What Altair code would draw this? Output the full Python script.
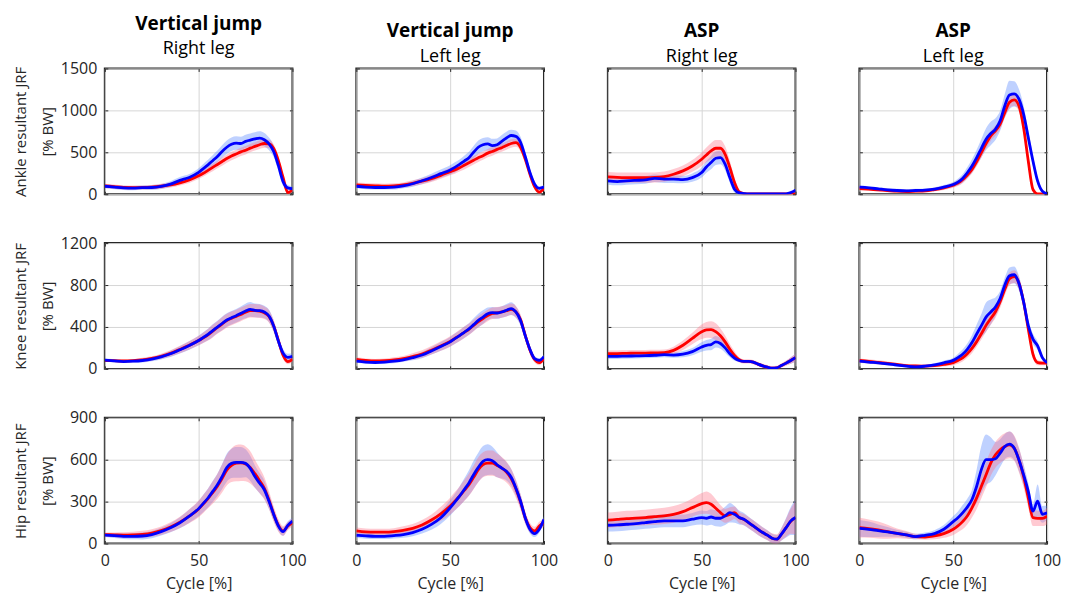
import altair as alt
import pandas as pd

# ---------------- data ----------------
X = [0, 5, 10, 15, 20, 25, 30, 35, 40, 45, 50, 52.5, 55, 57.5, 60, 62.5, 65, 67.5, 70,
     72.5, 75, 77.5, 80, 82.5, 85, 87.5, 90, 92.5, 95, 97.5, 100]

ROW_TITLES = [["Ankle resultant JRF", "[% BW]"],
              ["Knee resultant JRF", "[% BW]"],
              ["Hip resultant JRF", "[% BW]"]]
Y_MAX = [1500, 1200, 900]
Y_TICKS = [[0, 500, 1000, 1500], [0, 400, 800, 1200], [0, 300, 600, 900]]
X_TICKS = [0, 50, 100]
X_TITLE = "Cycle [%]"
COL_TITLES = ["Vertical jump", "Vertical jump", "ASP", "ASP"]
COL_SUBTITLES = ["Right leg", "Left leg", "Right leg", "Left leg"]

# Ankle, vertical jump, right leg
ankle_vjr_red = [100, 90, 80, 78, 80, 85, 95, 110, 135, 170, 220, 250, 285, 320, 355, 390, 425, 455, 480, 505,
                 525, 550, 570, 590, 605, 600, 545, 400, 200, 20, 50]
ankle_vjr_red_sd = [25, 25, 25, 25, 25, 25, 30, 30, 30, 35, 40, 40, 40, 45, 45, 50, 50, 50, 50, 50,
                    50, 50, 50, 50, 50, 50, 50, 45, 40, 20, 20]
ankle_vjr_blue = [95, 85, 75, 72, 78, 80, 92, 120, 165, 200, 260, 305, 350, 400, 450, 510, 560, 595, 610, 605,
                  630, 645, 660, 670, 650, 600, 510, 340, 150, 75, 65]
ankle_vjr_blue_sd = [25, 25, 25, 25, 25, 30, 30, 35, 40, 40, 50, 55, 60, 65, 70, 75, 80, 80, 80, 80,
                     80, 80, 80, 80, 80, 75, 70, 60, 50, 35, 30]

# Ankle, vertical jump, left leg
ankle_vjl_red = [110, 105, 100, 95, 100, 110, 130, 155, 185, 225, 270, 290, 315, 345, 375, 405, 435, 460, 490, 510,
                 535, 555, 580, 605, 615, 560, 420, 240, 90, 25, 70]
ankle_vjl_red_sd = [30, 30, 30, 30, 30, 30, 35, 35, 40, 40, 45, 45, 45, 50, 50, 50, 50, 50, 50, 50,
                    50, 50, 50, 50, 50, 50, 50, 45, 35, 20, 20]
ankle_vjl_blue = [95, 85, 80, 80, 85, 100, 125, 160, 200, 245, 290, 320, 355, 395, 435, 500, 560, 590, 600, 580,
                  590, 630, 670, 700, 690, 620, 450, 260, 120, 70, 85]
ankle_vjl_blue_sd = [25, 25, 25, 25, 30, 30, 35, 40, 45, 50, 55, 60, 60, 65, 70, 75, 80, 80, 80, 80,
                     75, 75, 75, 70, 70, 65, 60, 50, 35, 25, 25]

# Ankle, ASP, right leg
ankle_aspr_red = [206, 200, 198, 198, 198, 200, 210, 238, 278, 337, 417, 468, 516, 548, 548, 476, 318, 139, 28, 8,
                  3, 3, 3, 3, 3, 3, 3, 3, 3, 3, 3]
ankle_aspr_red_sd = [60, 60, 60, 60, 60, 60, 60, 62, 65, 70, 80, 88, 95, 100, 100, 95, 80, 60, 30, 10,
                     5, 5, 5, 5, 5, 5, 5, 5, 5, 5, 5]
ankle_aspr_blue = [159, 151, 159, 165, 171, 190, 179, 180, 175, 198, 258, 325, 377, 429, 437, 357, 198, 60, 16, 8,
                   3, 3, 3, 3, 3, 3, 3, 3, 5, 20, 48]
ankle_aspr_blue_sd = [45, 45, 45, 45, 45, 45, 45, 45, 45, 50, 60, 70, 80, 80, 80, 70, 60, 40, 15, 8,
                      5, 5, 5, 5, 5, 5, 5, 5, 5, 8, 10]

# Ankle, ASP, left leg
ankle_aspl_red = [68, 60, 52, 44, 36, 32, 36, 40, 56, 76, 108, 132, 172, 228, 296, 388, 496, 604, 696, 756,
                  836, 976, 1096, 1124, 1056, 796, 396, 56, 4, 4, 4]
ankle_aspl_red_sd = [20, 20, 20, 20, 20, 20, 20, 20, 20, 25, 30, 35, 40, 45, 50, 55, 60, 60, 60, 60,
                     60, 65, 70, 70, 70, 65, 60, 30, 5, 5, 5]
ankle_aspl_blue = [84, 76, 64, 52, 44, 40, 44, 48, 60, 84, 116, 144, 188, 256, 336, 436, 548, 656, 724, 776,
                   876, 1056, 1184, 1196, 1136, 956, 676, 396, 156, 36, 4]
ankle_aspl_blue_sd = [20, 20, 20, 20, 20, 20, 20, 20, 20, 25, 30, 40, 50, 65, 80, 95, 110, 130, 140, 130,
                      120, 140, 170, 150, 120, 100, 80, 60, 40, 20, 10]

# Knee, vertical jump, right leg
knee_vjr_red = [80, 78, 75, 78, 85, 100, 120, 148, 185, 225, 270, 297, 325, 360, 395, 428, 460, 482, 500, 520,
                540, 555, 555, 550, 535, 500, 410, 270, 130, 70, 90]
knee_vjr_red_sd = [15, 15, 15, 15, 20, 20, 25, 30, 35, 40, 45, 50, 55, 60, 60, 65, 65, 65, 65, 65,
                   65, 65, 65, 65, 60, 60, 55, 45, 35, 25, 25]
knee_vjr_blue = [83, 77, 70, 73, 80, 93, 115, 144, 182, 223, 271, 300, 329, 365, 399, 433, 466, 488, 507, 530,
                 552, 568, 558, 555, 542, 504, 408, 265, 150, 110, 120]
knee_vjr_blue_sd = [15, 15, 15, 15, 20, 20, 25, 30, 35, 40, 45, 50, 55, 60, 60, 65, 65, 65, 65, 65,
                    70, 70, 65, 65, 60, 60, 55, 45, 40, 35, 30]

# Knee, vertical jump, left leg
knee_vjl_red = [90, 80, 75, 78, 85, 98, 118, 142, 178, 218, 262, 290, 318, 348, 378, 414, 450, 480, 510, 530,
                535, 543, 555, 568, 545, 470, 320, 180, 90, 60, 100]
knee_vjl_red_sd = [20, 20, 20, 20, 25, 25, 30, 35, 40, 45, 50, 50, 55, 55, 55, 55, 55, 55, 55, 55,
                   55, 55, 55, 55, 55, 50, 45, 40, 30, 25, 25]
knee_vjl_blue = [74, 65, 61, 65, 74, 87, 107, 132, 171, 213, 258, 288, 317, 349, 381, 422, 462, 494, 526, 536,
                 533, 543, 559, 575, 543, 462, 317, 187, 97, 81, 116]
knee_vjl_blue_sd = [15, 15, 15, 15, 20, 20, 25, 30, 35, 40, 45, 50, 50, 55, 55, 60, 65, 65, 60, 55,
                    55, 55, 60, 60, 55, 50, 45, 35, 25, 20, 20]

# Knee, ASP, right leg
knee_aspr_red = [145, 146, 148, 150, 151, 153, 155, 177, 225, 290, 354, 372, 375, 355, 316, 258, 187, 129, 87, 72,
                 71, 64, 45, 29, 16, 6, 10, 32, 55, 80, 106]
knee_aspr_red_sd = [30, 30, 30, 30, 30, 30, 30, 35, 45, 55, 70, 75, 80, 80, 70, 60, 50, 40, 25, 20,
                    20, 20, 20, 20, 20, 20, 20, 20, 25, 30, 40]
knee_aspr_blue = [119, 120, 122, 124, 126, 130, 135, 132, 140, 165, 209, 225, 232, 258, 242, 200, 145, 103, 80, 71,
                  71, 64, 45, 29, 16, 6, 10, 32, 55, 80, 106]
knee_aspr_blue_sd = [25, 25, 25, 25, 25, 25, 25, 25, 30, 35, 45, 50, 55, 55, 50, 45, 35, 25, 15, 12,
                     12, 12, 12, 12, 12, 12, 12, 15, 20, 30, 40]

# Knee, ASP, left leg
knee_aspl_red = [80, 72, 62, 52, 42, 32, 28, 26, 30, 42, 60, 80, 105, 145, 195, 260, 335, 415, 480, 545,
                 640, 760, 860, 880, 820, 640, 380, 140, 60, 55, 55]
knee_aspl_red_sd = [20, 20, 20, 18, 15, 15, 15, 15, 15, 20, 25, 30, 35, 40, 45, 50, 55, 60, 60, 60,
                    60, 60, 60, 60, 60, 55, 50, 40, 25, 20, 20]
knee_aspl_blue = [74, 65, 58, 48, 36, 26, 19, 26, 39, 58, 81, 107, 139, 187, 252, 333, 413, 494, 543, 591,
                  672, 801, 888, 898, 817, 640, 413, 284, 220, 107, 58]
knee_aspl_blue_sd = [15, 15, 15, 15, 12, 12, 12, 12, 15, 20, 25, 35, 45, 55, 70, 90, 110, 140, 120, 90,
                     70, 70, 80, 80, 70, 65, 60, 50, 40, 25, 15]

# Hip, vertical jump, right leg
hip_vjr_red = [64, 62, 60, 62, 66, 75, 92, 118, 152, 196, 248, 284, 322, 365, 410, 465, 525, 560, 575, 578,
               570, 545, 500, 450, 395, 310, 210, 130, 90, 125, 150]
hip_vjr_red_sd = [15, 17, 20, 22, 25, 27, 30, 35, 40, 50, 60, 65, 70, 80, 90, 100, 110, 120, 130, 130,
                  125, 115, 100, 90, 80, 65, 55, 45, 35, 30, 30]
hip_vjr_blue = [61, 57, 52, 52, 54, 64, 85, 113, 149, 196, 250, 288, 326, 373, 420, 479, 543, 574, 581, 581,
                574, 538, 479, 432, 385, 302, 208, 125, 85, 130, 160]
hip_vjr_blue_sd = [15, 17, 20, 22, 25, 26, 28, 32, 40, 48, 55, 62, 68, 75, 80, 90, 100, 105, 110, 110,
                   100, 90, 80, 72, 65, 55, 45, 35, 30, 30, 25]

# Hip, vertical jump, left leg
hip_vjl_red = [90, 83, 81, 81, 85, 95, 109, 133, 168, 213, 268, 303, 339, 380, 422, 474, 528, 564, 576, 576,
               559, 540, 512, 465, 393, 299, 185, 114, 90, 126, 149]
hip_vjl_red_sd = [25, 25, 25, 25, 25, 28, 30, 35, 40, 50, 60, 65, 70, 75, 80, 85, 90, 90, 90, 90,
                  85, 80, 75, 70, 65, 55, 45, 35, 30, 30, 30]
hip_vjl_blue = [59, 55, 52, 52, 57, 64, 78, 102, 137, 185, 256, 297, 339, 386, 434, 493, 545, 588, 600, 593,
                564, 540, 517, 474, 398, 303, 185, 102, 71, 102, 173]
hip_vjl_blue_sd = [20, 20, 20, 20, 20, 22, 25, 30, 38, 45, 55, 60, 70, 80, 90, 100, 105, 110, 110, 100,
                   90, 75, 65, 60, 55, 50, 40, 30, 25, 25, 25]

# Hip, ASP, right leg
hip_aspr_red = [167, 173, 179, 182, 186, 192, 198, 209, 228, 257, 286, 293, 281, 252, 221, 198, 209, 221, 186, 172,
                150, 126, 102, 79, 60, 38, 31, 67, 114, 160, 185]
hip_aspr_red_sd = [55, 55, 55, 55, 55, 57, 58, 60, 62, 65, 75, 80, 75, 65, 55, 50, 50, 45, 40, 40,
                   40, 40, 40, 38, 36, 35, 35, 45, 65, 90, 120]
hip_aspr_blue = [131, 133, 138, 143, 150, 157, 162, 162, 162, 174, 186, 181, 190, 181, 181, 198, 221, 209, 186, 174,
                 150, 126, 102, 79, 60, 38, 31, 67, 114, 162, 186]
hip_aspr_blue_sd = [45, 45, 45, 45, 45, 45, 45, 45, 45, 45, 50, 52, 55, 58, 60, 65, 70, 60, 50, 45,
                    42, 40, 40, 38, 35, 32, 30, 45, 70, 100, 125]

# Hip, ASP, left leg
hip_aspl_red = [114, 107, 97, 85, 73, 62, 50, 47, 55, 71, 102, 126, 157, 197, 256, 327, 410, 493, 576, 635,
                671, 694, 706, 683, 600, 481, 327, 185, 180, 180, 197]
hip_aspl_red_sd = [70, 65, 60, 50, 35, 28, 20, 20, 25, 30, 40, 45, 55, 60, 70, 80, 85, 90, 90, 92,
                   95, 95, 95, 90, 90, 80, 70, 60, 55, 55, 60]
hip_aspl_blue = [109, 102, 92, 83, 73, 62, 50, 59, 71, 102, 157, 185, 220, 261, 315, 410, 529, 600, 600, 607,
                 647, 694, 711, 683, 600, 493, 374, 232, 303, 209, 220]
hip_aspl_blue_sd = [60, 55, 45, 35, 25, 22, 20, 20, 25, 30, 40, 45, 55, 60, 70, 120, 170, 180, 160, 120,
                    100, 90, 90, 85, 80, 75, 60, 50, 120, 60, 50]

PANELS = [
    [(ankle_vjr_red, ankle_vjr_red_sd, ankle_vjr_blue, ankle_vjr_blue_sd),
     (ankle_vjl_red, ankle_vjl_red_sd, ankle_vjl_blue, ankle_vjl_blue_sd),
     (ankle_aspr_red, ankle_aspr_red_sd, ankle_aspr_blue, ankle_aspr_blue_sd),
     (ankle_aspl_red, ankle_aspl_red_sd, ankle_aspl_blue, ankle_aspl_blue_sd)],
    [(knee_vjr_red, knee_vjr_red_sd, knee_vjr_blue, knee_vjr_blue_sd),
     (knee_vjl_red, knee_vjl_red_sd, knee_vjl_blue, knee_vjl_blue_sd),
     (knee_aspr_red, knee_aspr_red_sd, knee_aspr_blue, knee_aspr_blue_sd),
     (knee_aspl_red, knee_aspl_red_sd, knee_aspl_blue, knee_aspl_blue_sd)],
    [(hip_vjr_red, hip_vjr_red_sd, hip_vjr_blue, hip_vjr_blue_sd),
     (hip_vjl_red, hip_vjl_red_sd, hip_vjl_blue, hip_vjl_blue_sd),
     (hip_aspr_red, hip_aspr_red_sd, hip_aspr_blue, hip_aspr_blue_sd),
     (hip_aspl_red, hip_aspl_red_sd, hip_aspl_blue, hip_aspl_blue_sd)],
]

# ---------------- style ----------------
FONT = "Open Sans"
TXT = "#262626"
FRAME = "#262626"
GRIDC = "#d6d6d6"
RED = "#ff0000"
BLUE = "#0000ff"
RED_BAND = "#ff6b81"
BLUE_BAND = "#4d7fff"
PW, PH = 188, 126


def panel(r, c, red, red_sd, blue, blue_sd):
    recs = []
    for name, m, sd in (("red", red, red_sd), ("blue", blue, blue_sd)):
        for xv, mv, sv in zip(X, m, sd):
            recs.append({"x": xv, "series": name, "m": mv, "lo": mv - sv, "hi": mv + sv})
    df = pd.DataFrame(recs)

    xa = dict(values=X_TICKS, grid=True, gridColor=GRIDC, gridWidth=1, domain=False,
              ticks=True, tickSize=3, tickWidth=1, tickColor=FRAME, offset=-3, format="d",
              labelFlush=False, labelFont=FONT, labelFontSize=16, labelColor=TXT, labelPadding=9)
    if r == 2:
        xa.update(title=X_TITLE, titleFont=FONT, titleFontSize=16, titleFontWeight="normal",
                  titleColor=TXT, titlePadding=7)
    else:
        xa.update(labels=False, title="")

    ya = dict(values=Y_TICKS[r], grid=True, gridColor=GRIDC, gridWidth=1, domain=False,
              ticks=True, tickSize=3, tickWidth=1, tickColor=FRAME, offset=-3, format="d",
              labelFont=FONT, labelFontSize=16, labelColor=TXT, labelPadding=8)
    if c == 0:
        ya.update(title=ROW_TITLES[r], titleFont=FONT, titleFontSize=15, titleFontWeight="normal",
                  titleColor=TXT, titlePadding=7, titleLineHeight=27, minExtent=45, maxExtent=45)
    else:
        ya.update(labels=False, title="")

    xs = alt.Scale(domain=[0, 100], nice=False, zero=False)
    ys = alt.Scale(domain=[0, Y_MAX[r]], nice=False)
    xenc = alt.X("x:Q", scale=xs, axis=alt.Axis(**xa))

    base = alt.Chart(df)
    red_d = base.transform_filter(alt.datum.series == "red")
    blue_d = base.transform_filter(alt.datum.series == "blue")

    band_b = blue_d.mark_area(color=BLUE_BAND, opacity=0.36, clip=True, interpolate="monotone").encode(
        x=xenc, y=alt.Y("lo:Q", scale=ys, axis=alt.Axis(**ya)), y2="hi:Q")
    band_r = red_d.mark_area(color=RED_BAND, opacity=0.36, clip=True, interpolate="monotone").encode(
        x=xenc, y=alt.Y("lo:Q", scale=ys, axis=alt.Axis(**ya)), y2="hi:Q")
    line_r = red_d.mark_line(color=RED, strokeWidth=2.8, clip=True, interpolate="monotone").encode(
        x=xenc, y=alt.Y("m:Q", scale=ys, axis=alt.Axis(**ya)))
    line_b = blue_d.mark_line(color=BLUE, strokeWidth=2.8, clip=True, interpolate="monotone").encode(
        x=xenc, y=alt.Y("m:Q", scale=ys, axis=alt.Axis(**ya)))

    inner = alt.layer(band_b, band_r, line_r, line_b)

    ticks = red_d.mark_line(opacity=0).encode(
        x=alt.X("x:Q", scale=xs, axis=alt.Axis(orient="top", values=X_TICKS, labels=False, grid=False,
                                               domain=False, tickSize=3, tickWidth=1, tickColor=FRAME,
                                               offset=-3, title="")),
        y=alt.Y("m:Q", scale=ys, axis=alt.Axis(orient="right", values=Y_TICKS[r], labels=False, grid=False,
                                               domain=False, tickSize=3, tickWidth=1, tickColor=FRAME,
                                               offset=-3, title="")))

    ch = alt.layer(inner, ticks).resolve_axis(x="independent", y="independent").properties(width=PW, height=PH)
    if r == 0:
        ch = ch.properties(title=alt.TitleParams(
            text=COL_TITLES[c], subtitle=COL_SUBTITLES[c], font=FONT, fontSize=19, fontWeight="bold",
            color="#000000", subtitleFont=FONT, subtitleFontSize=18, subtitleColor="#000000",
            subtitlePadding=7, anchor="middle", offset=2))
    return ch


charts = []
for r in range(3):
    for c in range(4):
        charts.append(panel(r, c, *PANELS[r][c]))

chart = alt.concat(*charts, columns=4, spacing={"row": 49, "column": 64}, bounds="flush").properties(
    padding=5).configure_view(stroke=FRAME, strokeWidth=2)

chart.save("out.html", embed_options={"renderer": "svg", "actions": False})
